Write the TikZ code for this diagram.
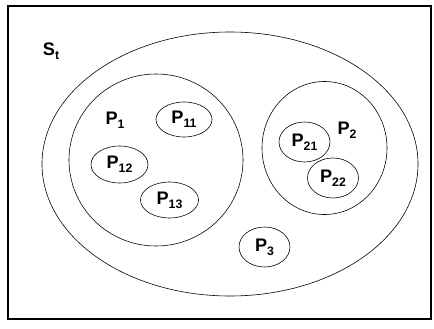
\documentclass[tikz,border=0pt]{standalone}
\usepackage{fontspec}
\setmainfont{Liberation Sans}
\usetikzlibrary{shapes.geometric}
\newcommand{\lowsub}[1]{\raisebox{-0.45ex}{\fontsize{10.5}{12}\selectfont #1}}

\begin{document}
\begin{tikzpicture}[x=0.03cm, y=-0.03cm,
    every node/.style={font=\fontsize{15.5}{18}\selectfont\bfseries},
    set/.style 2 args={draw, ellipse, inner sep=0pt, line width=0.5pt,
      minimum width=#1cm, minimum height=#2cm}]
  \useasboundingbox (0,0) rectangle (434,329);
  \draw[line width=1pt] (8,6) rectangle (431,319);
  % outer set and the three parts
  \node[set={11.28}{7.92}] (st) at (230,164) {};
  \node[set={5.22}{5.16}] (p1) at (156,160) {};
  \node[set={3.75}{3.99}] (p2) at (324.5,148) {};
  \node[set={1.53}{1.2}] (p3) at (264.5,247) {P\lowsub{3}};
  % sub-parts
  \node[set={1.68}{1.05}] (p11) at (184,119.5) {P\lowsub{11}};
  \node[set={1.71}{1.11}] (p12) at (119.5,164.5) {P\lowsub{12}};
  \node[set={1.74}{1.08}] (p13) at (169.5,200) {P\lowsub{13}};
  \node[set={1.53}{1.2}] (p21) at (304.5,142) {P\lowsub{21}};
  \node[set={1.53}{1.2}] (p22) at (333,178) {P\lowsub{22}};
  % labels
  \node (st label) at (51,51) {S\lowsub{t}};
  \node (p1 label) at (115,120) {P\lowsub{1}};
  \node (p2 label) at (347,130) {P\lowsub{2}};
\end{tikzpicture}
\end{document}
